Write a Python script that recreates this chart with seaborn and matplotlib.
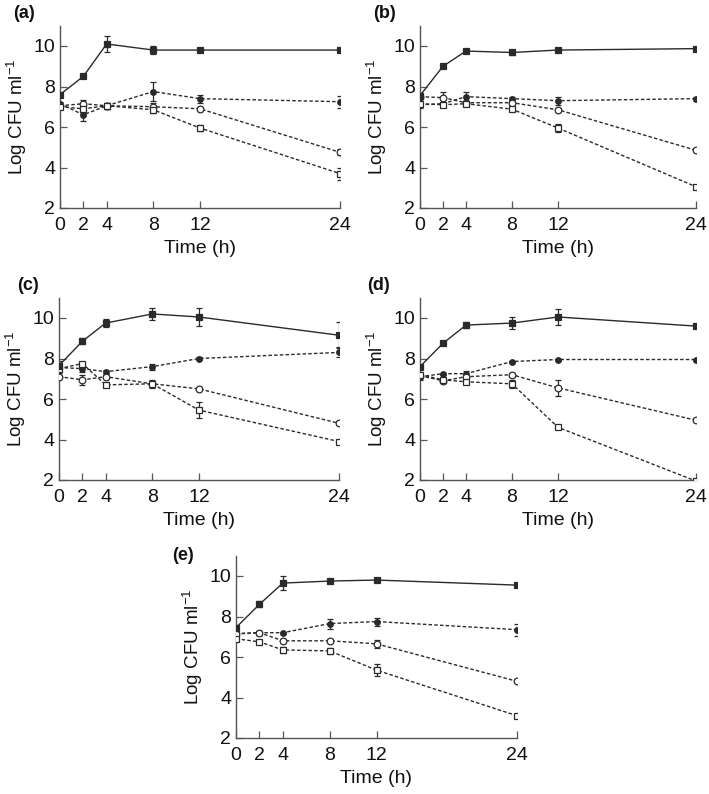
import numpy as np
import pandas as pd
import matplotlib
matplotlib.use("Agg")
import matplotlib.pyplot as plt
import seaborn as sns

sns.set_style("ticks")
plt.rcParams['font.family'] = ['Liberation Sans', 'DejaVu Sans']
plt.rcParams['mathtext.fontset'] = 'custom'
plt.rcParams['mathtext.rm'] = 'Liberation Sans'
plt.rcParams['mathtext.it'] = 'Liberation Sans:italic'
plt.rcParams['mathtext.bf'] = 'Liberation Sans:bold'

times = [0, 2, 4, 8, 12, 24]
x_ticks = [0, 2, 4, 8, 12, 24]
y_ticks = [2, 4, 6, 8, 10]
panel_labels = ["(a)", "(b)", "(c)", "(d)", "(e)"]

# series: filled square (solid), filled circle, open circle, open square (dashed)
a_fsq = [7.6, 8.5, 10.1, 9.8, 9.8, 9.8]
a_fsq_err = [0.1, 0.05, 0.4, 0.2, 0.05, 0.05]
a_fci = [7.15, 6.6, 7.05, 7.75, 7.4, 7.25]
a_fci_err = [0.1, 0.3, 0.15, 0.45, 0.2, 0.3]
a_oci = [7.05, 7.15, 7.05, 7.0, 6.9, 4.75]
a_oci_err = [0.1, 0.2, 0.15, 0.2, 0.1, 0.15]
a_osq = [7.0, 6.9, 7.05, 6.85, 5.95, 3.7]
a_osq_err = [0.1, 0.1, 0.1, 0.15, 0.15, 0.3]

b_fsq = [7.55, 9.0, 9.75, 9.68, 9.8, 9.87]
b_fsq_err = [0.15, 0.05, 0.05, 0.1, 0.05, 0.05]
b_fci = [7.1, 7.15, 7.5, 7.4, 7.3, 7.4]
b_fci_err = [0.15, 0.1, 0.25, 0.1, 0.2, 0.1]
b_oci = [7.5, 7.45, 7.2, 7.2, 6.85, 4.85]
b_oci_err = [0.1, 0.3, 0.1, 0.1, 0.1, 0.05]
b_osq = [7.15, 7.1, 7.15, 6.88, 5.95, 3.05]
b_osq_err = [0.1, 0.1, 0.1, 0.1, 0.2, 0.05]

c_fsq = [7.65, 8.85, 9.75, 10.2, 10.05, 9.15]
c_fsq_err = [0.25, 0.15, 0.2, 0.3, 0.45, 0.65]
c_fci = [7.55, 7.5, 7.35, 7.6, 8.0, 8.3]
c_fci_err = [0.25, 0.15, 0.1, 0.15, 0.05, 0.25]
c_oci = [7.1, 6.95, 7.1, 6.75, 6.5, 4.8]
c_oci_err = [0.1, 0.25, 0.1, 0.1, 0.05, 0.1]
c_osq = [7.5, 7.75, 6.7, 6.75, 5.45, 3.9]
c_osq_err = [0.1, 0.1, 0.1, 0.2, 0.4, 0.1]

d_fsq = [7.6, 8.75, 9.65, 9.75, 10.05, 9.6]
d_fsq_err = [0.05, 0.05, 0.15, 0.3, 0.4, 0.1]
d_fci = [7.1, 7.25, 7.25, 7.85, 7.95, 7.95]
d_fci_err = [0.15, 0.05, 0.15, 0.05, 0.05, 0.05]
d_oci = [7.15, 6.9, 7.1, 7.2, 6.55, 4.95]
d_oci_err = [0.1, 0.1, 0.1, 0.1, 0.4, 0.1]
d_osq = [7.2, 6.95, 6.85, 6.75, 4.6, 1.95]
d_osq_err = [0.1, 0.1, 0.1, 0.2, 0.1, 0.0]

e_fsq = [7.45, 8.6, 9.65, 9.75, 9.8, 9.55]
e_fsq_err = [0.1, 0.15, 0.35, 0.1, 0.05, 0.05]
e_fci = [7.15, 7.2, 7.2, 7.65, 7.75, 7.35]
e_fci_err = [0.1, 0.1, 0.05, 0.25, 0.2, 0.3]
e_oci = [7.15, 7.2, 6.8, 6.8, 6.65, 4.8]
e_oci_err = [0.1, 0.1, 0.1, 0.1, 0.2, 0.1]
e_osq = [6.9, 6.75, 6.35, 6.3, 5.35, 3.1]
e_osq_err = [0.1, 0.1, 0.15, 0.15, 0.3, 0.05]

panels = [
    (a_fsq, a_fsq_err, a_fci, a_fci_err, a_oci, a_oci_err, a_osq, a_osq_err),
    (b_fsq, b_fsq_err, b_fci, b_fci_err, b_oci, b_oci_err, b_osq, b_osq_err),
    (c_fsq, c_fsq_err, c_fci, c_fci_err, c_oci, c_oci_err, c_osq, c_osq_err),
    (d_fsq, d_fsq_err, d_fci, d_fci_err, d_oci, d_oci_err, d_osq, d_osq_err),
    (e_fsq, e_fsq_err, e_fci, e_fci_err, e_oci, e_oci_err, e_osq, e_osq_err),
]

W, H = 709, 794
fig = plt.figure(figsize=(W / 100, H / 100), dpi=100)

# axes boxes in pixels: left, right, y of value 2 (bottom)
boxes = [(60, 340, 208), (420, 696, 208), (59, 339, 480), (420, 696, 480), (236, 517, 738)]
# panel label positions (left x, centre y) in pixels
label_pos = [(13, 14), (373, 13), (17, 286), (367, 286), (172, 556)]
ppu = 20.25
col = "#2a2a2a"
spine_col = "#555555"
txt_col = "#111111"

styles = [
    dict(marker="s", ms=4.6, mfc=col, ls="-", lw=1.0),
    dict(marker="o", ms=4.0, mfc=col, ls=(0, (2.5, 1.6)), lw=1.0),
    dict(marker="o", ms=4.8, mfc="white", ls=(0, (2.5, 1.6)), lw=1.0),
    dict(marker="s", ms=4.8, mfc="white", ls=(0, (2.5, 1.6)), lw=1.0),
]

for i, (box, data) in enumerate(zip(boxes, panels)):
    l, r, yb = box
    top = yb - 9 * ppu
    ax = fig.add_axes([l / W, (H - yb) / H, (r - l) / W, (yb - top) / H])
    for k in [1, 2, 3, 0]:
        vals = data[2 * k]
        errs = data[2 * k + 1]
        st = styles[k]
        df = pd.DataFrame({"t": times, "v": vals})
        ax.errorbar(times, vals, yerr=errs, fmt="none", ecolor=col,
                    elinewidth=0.9, capsize=2.5, capthick=0.9, zorder=2)
        sns.lineplot(data=df, x="t", y="v", ax=ax, color=col,
                     marker=st["marker"], markersize=st["ms"],
                     markerfacecolor=st["mfc"], markeredgecolor=col,
                     markeredgewidth=0.9, linestyle=st["ls"],
                     linewidth=st["lw"], zorder=3)
    ax.set_xlim(0, 24)
    ax.set_ylim(2, 11)
    ax.set_xticks(x_ticks)
    ax.set_yticks(y_ticks)
    ax.tick_params(direction="in", length=5, width=0.9, color=spine_col,
                   labelsize=14, labelcolor=txt_col)
    ax.tick_params(axis="x", pad=6.5)
    ax.tick_params(axis="y", pad=3.5)
    for s in ["top", "right"]:
        ax.spines[s].set_visible(False)
    for s in ["left", "bottom"]:
        ax.spines[s].set_color(spine_col)
        ax.spines[s].set_linewidth(1.0)
    ax.set_xlabel("Time (h)", fontsize=14, labelpad=4, color=txt_col)
    ax.set_ylabel("Log CFU ml$^{-1}$", fontsize=13.5, labelpad=3, color=txt_col)
    lx, ly = label_pos[i]
    fig.text(lx / W, 1 - ly / H, panel_labels[i], fontsize=13,
             fontweight="bold", ha="left", va="center", color=txt_col)

fig.savefig("out.png", dpi=100)
